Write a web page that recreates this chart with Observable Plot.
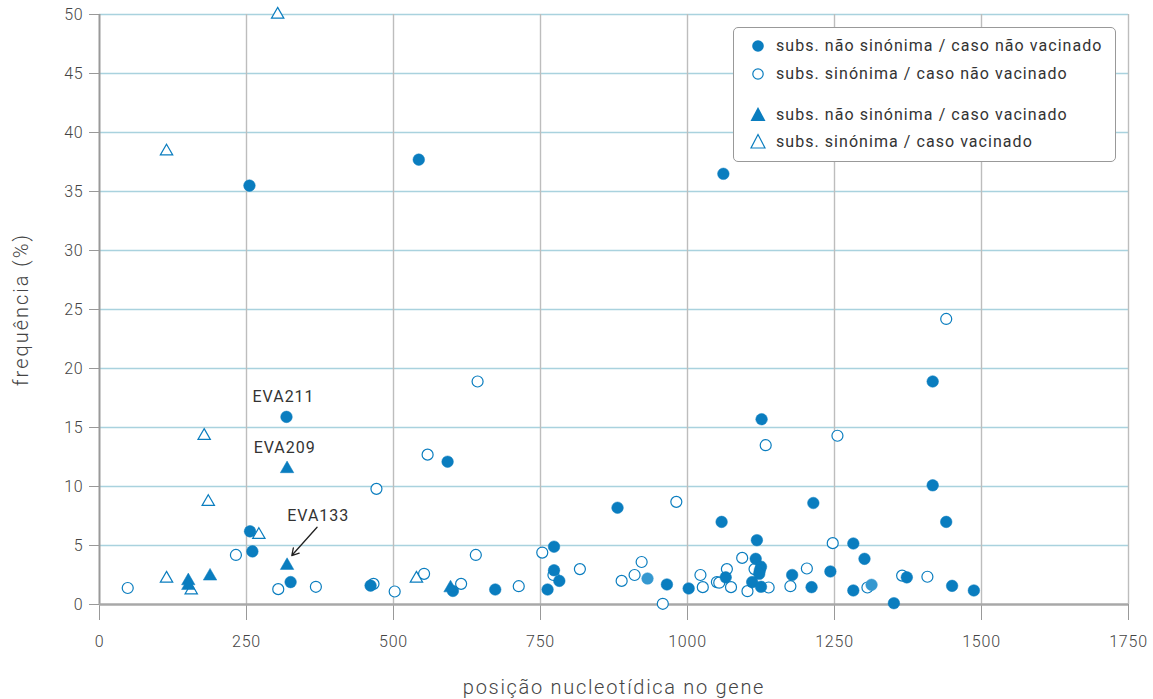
<!DOCTYPE html>
<html>
<head>
<meta charset="utf-8">
<script src="https://cdn.jsdelivr.net/npm/d3@7"></script>
<script src="https://cdn.jsdelivr.net/npm/@observablehq/plot@0.6"></script>
<style>
  html, body { margin: 0; padding: 0; background: #fff; }
  #wrap { position: relative; width: 1153px; height: 699px; font-family: Roboto, "Noto Sans", sans-serif; }
  #legend { position: absolute; left: 733px; top: 27px; width: 381px; height: 133px;
    border: 1px solid #999; border-radius: 5px; background: #fff; }
  .item { position: absolute; left: 0; height: 20px; display: flex; align-items: center; }
  .item svg { position: absolute; left: 14px; }
  .item span { position: absolute; left: 42px; white-space: nowrap; font-size: 16px; color: #333;
    font-weight: 400; letter-spacing: 1.05px; line-height: 20px; }
</style>
</head>
<body>
<div id="wrap"><div id="chart"></div><div id="legend"></div></div>
<script>
// ---- data ----
const xTicks = [0, 250, 500, 750, 1000, 1250, 1500, 1750];
const yTicks = [0, 5, 10, 15, 20, 25, 30, 35, 40, 45, 50];

// subs. não sinónima / caso não vacinado (filled circles)
const nsUnvacX = [255, 543, 1061, 1417, 1126, 318, 592, 1417, 881, 1214, 1058, 1440, 256, 260, 325, 461, 601, 673, 762, 773, 773, 782, 965, 1002, 1118, 1282, 1301, 1116, 1065, 1125, 1123, 1122, 1110, 1125, 1178, 1211, 1243, 1282, 1351, 1373, 1450, 1487];
const nsUnvacY = [35.5, 37.7, 36.5, 18.9, 15.7, 15.9, 12.1, 10.1, 8.2, 8.6, 7.0, 7.0, 6.2, 4.5, 1.9, 1.6, 1.15, 1.27, 1.27, 4.9, 2.9, 2.0, 1.7, 1.36, 5.45, 5.17, 3.87, 3.87, 2.3, 3.2, 2.9, 2.6, 1.9, 1.5, 2.5, 1.47, 2.8, 1.19, 0.11, 2.3, 1.58, 1.19];
// overlapping points drawn lighter
const nsUnvacLightX = [932, 1313];
const nsUnvacLightY = [2.2, 1.67];

// subs. sinónima / caso não vacinado (open circles)
const sUnvacX = [1440, 643, 1133, 1255, 558, 981, 471, 232, 48, 304, 368, 466, 502, 552, 615, 713, 640, 753, 772, 817, 888, 910, 922, 958, 1022, 1026, 1247, 1093, 1067, 1050, 1054, 1074, 1114, 1102, 1138, 1203, 1175, 1306, 1365, 1408];
const sUnvacY = [24.2, 18.9, 13.5, 14.3, 12.7, 8.7, 9.8, 4.2, 1.4, 1.3, 1.5, 1.75, 1.1, 2.6, 1.75, 1.55, 4.2, 4.4, 2.5, 3.0, 2.0, 2.5, 3.6, 0.06, 2.5, 1.47, 5.2, 3.95, 3.0, 1.9, 1.85, 1.47, 3.0, 1.13, 1.44, 3.05, 1.55, 1.44, 2.45, 2.35];

// subs. não sinónima / caso vacinado (filled triangles)
const nsVacX = [319, 319, 151, 151, 188, 597];
const nsVacY = [11.5, 3.3, 2.0, 1.6, 2.4, 1.4];

// subs. sinónima / caso vacinado (open triangles)
const sVacX = [303, 114, 178, 185, 271, 114, 156, 539];
const sVacY = [50, 38.4, 14.3, 8.7, 5.9, 2.2, 1.2, 2.2];

// annotations
const annoText = ["EVA211", "EVA209", "EVA133"];
const annoX = [313, 315, 372];
const annoY = [17.6, 13.3, 7.55];
const arrowFrom = [370, 6.55];
const arrowTo = [327, 4.15];

const legendLabels = [
  "subs. não sinónima / caso não vacinado",
  "subs. sinónima / caso não vacinado",
  "subs. não sinónima / caso vacinado",
  "subs. sinónima / caso vacinado"
];

const xLabel = "posição nucleotídica no gene";
const yLabel = "frequência (%)";

// ---- build ----
const blue = "#0a7dbf";
const zip = (xs, ys) => xs.map((x, i) => ({x, y: ys[i]}));
const nsUnvac = zip(nsUnvacX, nsUnvacY);
const nsUnvacLight = zip(nsUnvacLightX, nsUnvacLightY);
const sUnvac = zip(sUnvacX, sUnvacY);
const nsVac = zip(nsVacX, nsVacY);
const sVac = zip(sVacX, sVacY);
const anno = annoText.map((t, i) => ({t, x: annoX[i], y: annoY[i]}));

const chart = Plot.plot({
  width: 1153,
  height: 699,
  marginLeft: 99,
  marginRight: 25,
  marginTop: 14,
  marginBottom: 95,
  style: {fontFamily: "Roboto, sans-serif", fontWeight: 300, color: "#444", background: "white"},
  x: {domain: [0, 1750], ticks: xTicks},
  y: {domain: [0, 50], ticks: yTicks},
  marks: [
    Plot.gridY(yTicks.slice(1), {stroke: "#a9d2de", strokeOpacity: 1, strokeWidth: 1.4}),
    Plot.gridX(xTicks.slice(1), {stroke: "#bdbdbd", strokeOpacity: 1, strokeWidth: 1.4}),
    Plot.axisY(yTicks, {tickSize: 10, tickPadding: 6, stroke: "#999", fontSize: 16, label: null, tickFormat: d => String(d)}),
    Plot.axisX(xTicks, {tickSize: 16, tickPadding: 15, stroke: "#999", fontSize: 16, label: null, tickFormat: d => String(d)}),
    Plot.ruleX([0], {stroke: "#999", strokeWidth: 2}),
    Plot.ruleY([0], {stroke: "#a8a8a8", strokeWidth: 2.5}),
    Plot.text([yLabel], {frameAnchor: "left", textAnchor: "middle", dx: -78, rotate: -90, fontSize: 20, fill: "#444", fontWeight: 300}),
    Plot.text([xLabel], {frameAnchor: "bottom", textAnchor: "middle", dy: 89, fontSize: 20, fill: "#444", fontWeight: 300}),
    Plot.dot(sUnvac, {x: "x", y: "y", r: 5.5, fill: "white", stroke: blue, strokeWidth: 1.2}),
    Plot.dot(sVac, {x: "x", y: "y", r: 4.6, symbol: "triangle", fill: "white", stroke: blue, strokeWidth: 1.2}),
    Plot.dot(nsUnvac, {x: "x", y: "y", r: 5.8, fill: blue, stroke: blue, strokeWidth: 0.5}),
    Plot.dot(nsUnvacLight, {x: "x", y: "y", r: 5.8, fill: "#3598d0", stroke: "#3598d0", strokeWidth: 0.5}),
    Plot.dot(nsVac, {x: "x", y: "y", r: 5, symbol: "triangle", fill: blue, stroke: blue, strokeWidth: 0.5}),
    Plot.text(anno, {x: "x", y: "y", text: "t", fontSize: 16, fill: "#333", fontWeight: 400}),
    Plot.arrow([{x1: arrowFrom[0], y1: arrowFrom[1], x2: arrowTo[0], y2: arrowTo[1]}],
      {x1: "x1", y1: "y1", x2: "x2", y2: "y2", stroke: "#222", strokeWidth: 1.3, headLength: 9})
  ]
});
// letter spacing for the lighter, wider-looking text of the reference
d3.select(chart).selectAll("text").each(function() {
  const t = this.textContent;
  if (t === xLabel) this.setAttribute("letter-spacing", "1.7");
  else if (t === yLabel) this.setAttribute("letter-spacing", "2");
  else if (annoText.includes(t)) this.setAttribute("letter-spacing", "1");
  else this.setAttribute("letter-spacing", "0.8");
});
document.getElementById("chart").appendChild(chart);

// legend
const legend = document.getElementById("legend");
const rowsTop = [8, 36, 77, 104];
const shapes = [
  `<circle cx="10" cy="10" r="5.8" fill="${blue}"/>`,
  `<circle cx="10" cy="10" r="5.2" fill="white" stroke="${blue}" stroke-width="1.2"/>`,
  `<path d="M10,2 L17.5,16 L2.5,16 Z" fill="${blue}"/>`,
  `<path d="M10,2.5 L17,16 L3,16 Z" fill="white" stroke="${blue}" stroke-width="1.2"/>`
];
legendLabels.forEach((lab, i) => {
  const d = document.createElement("div");
  d.className = "item";
  d.style.top = rowsTop[i] + "px";
  d.innerHTML = `<svg width="20" height="20" viewBox="0 0 20 20">${shapes[i]}</svg><span>${lab}</span>`;
  legend.appendChild(d);
});
</script>
</body>
</html>
